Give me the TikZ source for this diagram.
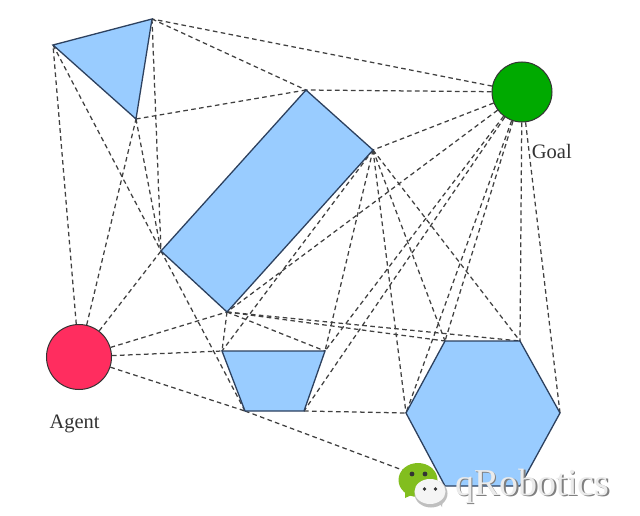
\documentclass[tikz,border=0pt]{standalone}
\usepackage{fontspec}
\setmainfont{Liberation Serif}
\begin{document}
\begin{tikzpicture}[x=1pt,y=-1pt,
  link/.style={draw=black!75,line width=1.25pt,dash pattern=on 4.6pt off 3.4pt},
  obstacle/.style={draw=obline,line width=1.3pt,fill=obfill,line join=miter},
  disc/.style={circle,draw=black!80,line width=1pt,inner sep=0pt},
  lbl/.style={font=\fontsize{20.5}{24}\selectfont,text=black!80,inner sep=0pt,anchor=base west}]
\definecolor{obfill}{RGB}{153,204,255}
\definecolor{obline}{RGB}{45,65,95}
\definecolor{goalc}{RGB}{0,170,0}
\definecolor{agentc}{RGB}{255,45,95}
\definecolor{wcgreen}{RGB}{130,190,30}
\useasboundingbox (0,0) rectangle (640,516);
\fill[white] (0,0) rectangle (640,516);
% vertices
\coordinate (T1) at (53,45); \coordinate (T2) at (152,19); \coordinate (T3) at (136,119);
\coordinate (R1) at (306,90); \coordinate (R2) at (373,150); \coordinate (R3) at (227,312); \coordinate (R4) at (161,251);
\coordinate (Z1) at (222,351); \coordinate (Z2) at (325,351); \coordinate (Z3) at (304,411); \coordinate (Z4) at (245,411);
\coordinate (H1) at (445,341); \coordinate (H2) at (520,341); \coordinate (H3) at (560,413);
\coordinate (H4) at (520,486); \coordinate (H5) at (445,486); \coordinate (H6) at (406,413);
\node[disc,fill=goalc,minimum size=60pt] (goal) at (522,92) {};
\node[disc,fill=agentc,minimum size=65pt] (agent) at (79,357) {};
% connectors
\foreach \a/\b in {T2/R1,T2/R4,T3/R1,T3/R4,T1/R4,R4/Z4,R2/Z1,R3/Z1,R3/Z2,R3/H1,R3/H2,
  R2/Z2,R2/H6,R2/H1,R2/H2,Z3/H6,Z4/H5,
  goal/T2,goal/R1,goal/R2,goal/R3,goal/Z2,goal/Z3,goal/H6,goal/H1,goal/H2,goal/H3,
  agent/T1,agent/T3,agent/R4,agent/R3,agent/Z1,agent/Z4}
  \draw[link] (\a) -- (\b);
% obstacles
\draw[obstacle] (T1) -- (T2) -- (T3) -- cycle;
\draw[obstacle] (R1) -- (R2) -- (R3) -- (R4) -- cycle;
\draw[obstacle] (Z1) -- (Z2) -- (Z3) -- (Z4) -- cycle;
\draw[obstacle] (H1) -- (H2) -- (H3) -- (H4) -- (H5) -- (H6) -- cycle;
\node[lbl] (goallabel) at (531.7,159) {Goal};
\node[lbl] (agentlabel) at (49.3,428) {Agent};
% watermark
\fill[wcgreen] (418,480) ellipse (19.5 and 17);
\fill[wcgreen] (405,490) -- (405,498) -- (414,494) -- cycle;
\fill[black!80] (412,474) circle (2.4) (425,474) circle (2.4);
\fill[black!25] (431,493.5) ellipse (16.5 and 14);
\fill[black!25] (437,500) -- (442,507) -- (443,498) -- cycle;
\fill[black!4] (430,491.5) ellipse (15.5 and 12.5);
\fill[black!80] (424.5,489) circle (1.9) (435.5,489) circle (1.9);
\node[font=\fontsize{38}{42}\selectfont,inner sep=0pt,anchor=base west] (mark) at (455,495)
  {\rlap{\kern1.5pt\raisebox{-1.5pt}{\textcolor{black!50}{qRobotics}}}\textcolor{black!8}{qRobotics}};
\end{tikzpicture}
\end{document}
